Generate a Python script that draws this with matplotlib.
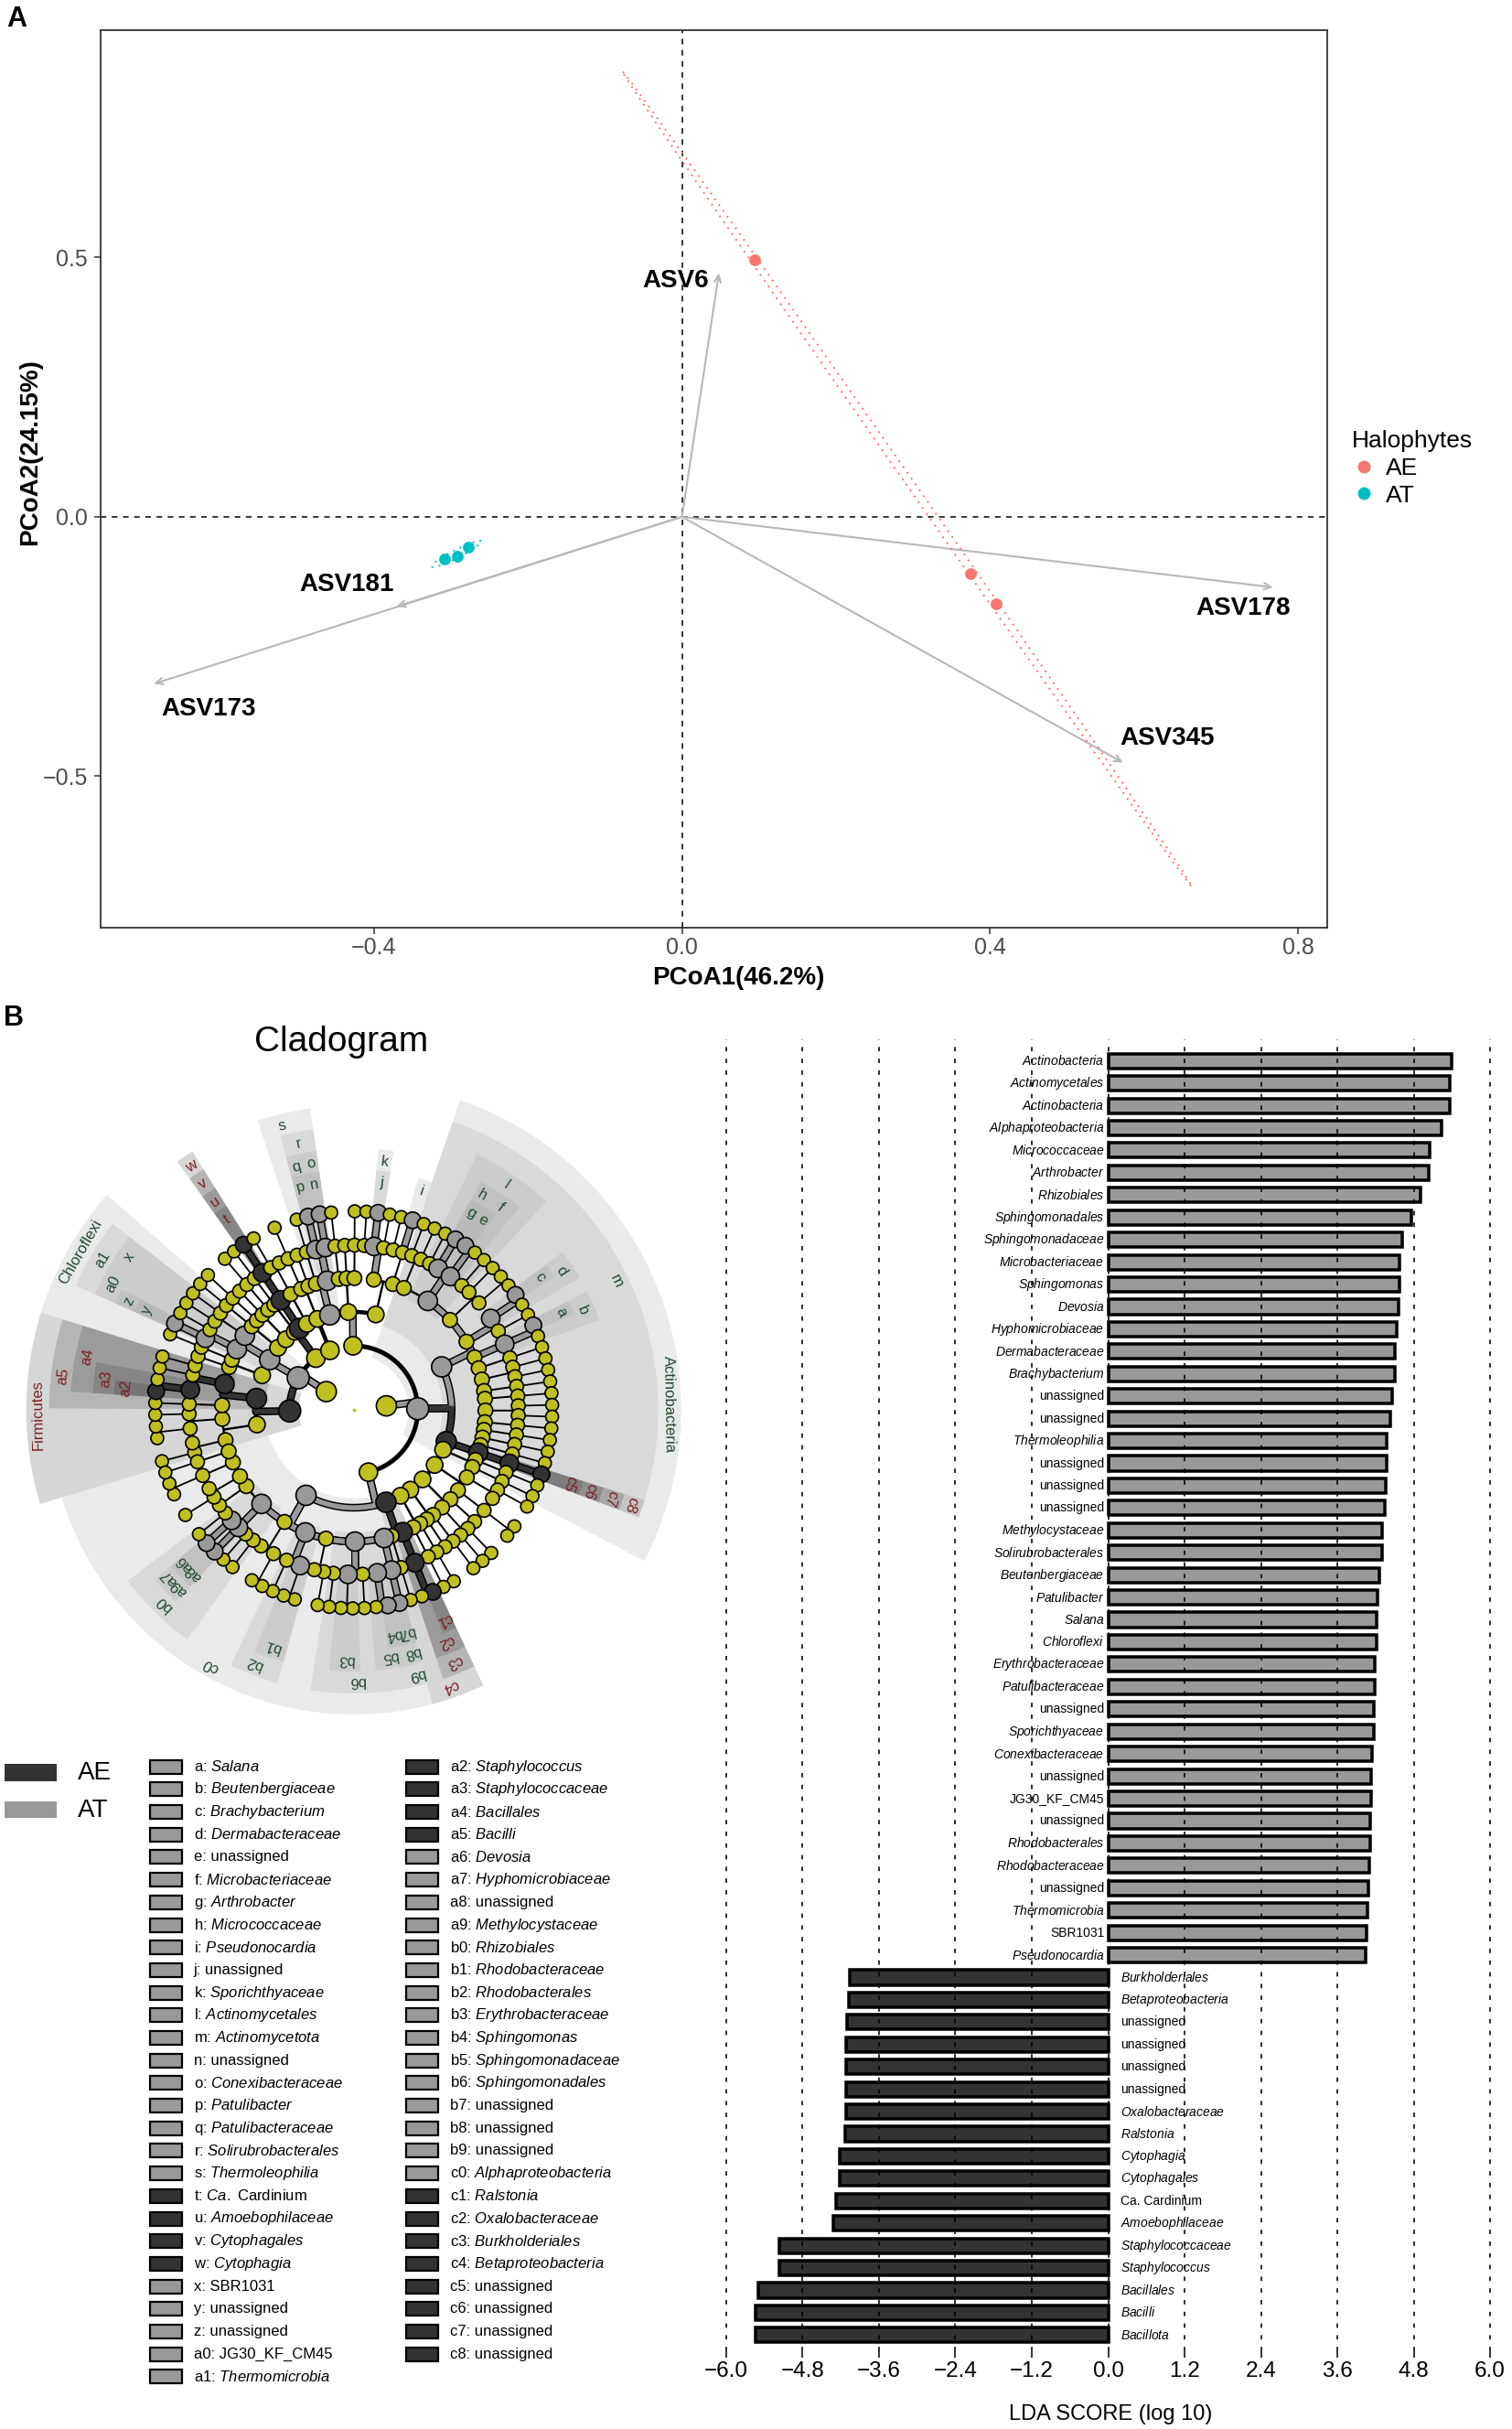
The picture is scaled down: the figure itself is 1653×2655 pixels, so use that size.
import numpy as np
import matplotlib.pyplot as plt
from matplotlib.patches import Wedge, Rectangle
from matplotlib.lines import Line2D
from matplotlib.ticker import FuncFormatter

plt.rcParams.update({
    "font.family": ["Liberation Sans", "DejaVu Sans"],
    "mathtext.fontset": "custom",
    "mathtext.rm": "Liberation Sans",
    "mathtext.it": "Liberation Sans:italic",
    "mathtext.bf": "Liberation Sans:bold",
})

FIG_W, FIG_H, DPI = 1653, 2655, 100
PX = 72 / DPI  # points per pixel

AE_COL, AT_COL = "#F8766D", "#00BFC4"
DARK, LIGHT = "#333333", "#999999"
OLIVE = "#BFBF1F"
AE_TXT, AT_TXT = "#7A1F1F", "#1F4A2C"

# ---------------- Panel A : PCoA biplot ----------------
pc1_var, pc2_var = 46.2, 24.15
ae_pc1 = [0.094, 0.375, 0.408]
ae_pc2 = [0.495, -0.109, -0.167]
at_pc1 = [-0.308, -0.292, -0.278]
at_pc2 = [-0.0805, -0.0755, -0.058]

asv_names = ["ASV6", "ASV181", "ASV173", "ASV178", "ASV345"]
asv_pc1 = [0.048, -0.371, -0.686, 0.768, 0.573]
asv_pc2 = [0.470, -0.173, -0.322, -0.136, -0.474]
asv_lab_x = [-0.008, -0.436, -0.615, 0.729, 0.630]
asv_lab_y = [0.455, -0.130, -0.371, -0.177, -0.427]

# ---------------- Panel B : LDA scores ----------------
lda_taxa = [
    "Actinobacteria", "Actinomycetales", "Actinobacteria", "Alphaproteobacteria",
    "Micrococcaceae", "Arthrobacter", "Rhizobiales", "Sphingomonadales",
    "Sphingomonadaceae", "Microbacteriaceae", "Sphingomonas", "Devosia",
    "Hyphomicrobiaceae", "Dermabacteraceae", "Brachybacterium", "unassigned",
    "unassigned", "Thermoleophilia", "unassigned", "unassigned", "unassigned",
    "Methylocystaceae", "Solirubrobacterales", "Beutenbergiaceae", "Patulibacter",
    "Salana", "Chloroflexi", "Erythrobacteraceae", "Patulibacteraceae", "unassigned",
    "Sporichthyaceae", "Conexibacteraceae", "unassigned", "JG30_KF_CM45",
    "unassigned", "Rhodobacterales", "Rhodobacteraceae", "unassigned",
    "Thermomicrobia", "SBR1031", "Pseudonocardia",
    "Burkholderiales", "Betaproteobacteria", "unassigned", "unassigned",
    "unassigned", "unassigned", "Oxalobacteraceae", "Ralstonia", "Cytophagia",
    "Cytophagales", "Ca. Cardinium", "Amoebophilaceae", "Staphylococcaceae",
    "Staphylococcus", "Bacillales", "Bacilli", "Bacillota",
]
lda_scores = [
    5.39, 5.37, 5.37, 5.24, 5.05, 5.03, 4.91, 4.76, 4.62, 4.57, 4.57, 4.56,
    4.54, 4.51, 4.51, 4.46, 4.43, 4.37, 4.37, 4.36, 4.35, 4.31, 4.30, 4.26,
    4.23, 4.22, 4.22, 4.19, 4.19, 4.18, 4.17, 4.14, 4.13, 4.13, 4.11, 4.11,
    4.10, 4.09, 4.08, 4.06, 4.04,
    -4.06, -4.07, -4.10, -4.11, -4.11, -4.12, -4.12, -4.13, -4.21, -4.21,
    -4.28, -4.32, -5.16, -5.17, -5.50, -5.54, -5.54,
]
lda_ticks = [-6.0, -4.8, -3.6, -2.4, -1.2, 0.0, 1.2, 2.4, 3.6, 4.8, 6.0]

# cladogram legend (letter keys)
key_codes = ["a", "b", "c", "d", "e", "f", "g", "h", "i", "j", "k", "l", "m", "n",
             "o", "p", "q", "r", "s", "t", "u", "v", "w", "x", "y", "z", "a0", "a1",
             "a2", "a3", "a4", "a5", "a6", "a7", "a8", "a9", "b0", "b1", "b2", "b3",
             "b4", "b5", "b6", "b7", "b8", "b9", "c0", "c1", "c2", "c3", "c4", "c5",
             "c6", "c7", "c8"]
key_names = ["Salana", "Beutenbergiaceae", "Brachybacterium", "Dermabacteraceae",
             "unassigned", "Microbacteriaceae", "Arthrobacter", "Micrococcaceae",
             "Pseudonocardia", "unassigned", "Sporichthyaceae", "Actinomycetales",
             "Actinomycetota", "unassigned", "Conexibacteraceae", "Patulibacter",
             "Patulibacteraceae", "Solirubrobacterales", "Thermoleophilia",
             "Ca. Cardinium", "Amoebophilaceae", "Cytophagales", "Cytophagia",
             "SBR1031", "unassigned", "unassigned", "JG30_KF_CM45", "Thermomicrobia",
             "Staphylococcus", "Staphylococcaceae", "Bacillales", "Bacilli", "Devosia",
             "Hyphomicrobiaceae", "unassigned", "Methylocystaceae", "Rhizobiales",
             "Rhodobacteraceae", "Rhodobacterales", "Erythrobacteraceae", "Sphingomonas",
             "Sphingomonadaceae", "Sphingomonadales", "unassigned", "unassigned",
             "unassigned", "Alphaproteobacteria", "Ralstonia", "Oxalobacteraceae",
             "Burkholderiales", "Betaproteobacteria", "unassigned", "unassigned",
             "unassigned", "unassigned"]

# cladogram tree, clockwise from the left side.
# 0 -> terminal clade, n -> clade with n terminal children,
# [...] -> clade with these children, (tag, spec) -> clade enriched in a group
firmicutes = ("AE:Firmicutes", [
    [[1, 0], [2, 1]],
    ("AE:a5", [[1], ("AE:a4", [("AE:a3", [("AE:a2", 0), 0]), 1, 1])]),
])
chloroflexi = ("AT:Chloroflexi", [
    [[0], [1]],
    ("AT:a1", [("AT:a0", [("AT:z", [("AT:y", 0)]), 1]), ("AT:x", [1, 1])]),
    [[1]],
])
bacteroidetes = ("", [
    [[1], [0], [1]],
    [[1]],
    ("AE:w", [("AE:v", [("AE:u", [("AE:t", 0)])])]),
    [[1, 0]],
])
other_phylum = ("", [[[1], [0]]])
thermo_phylum = ("", [
    ("AT:s", [[1], ("AT:r", [("AT:q", [("AT:p", 0)]), ("AT:o", [("AT:n", 0)])])]),
    [[1], [0], [1]],
    [[1, ("AT:k", [("AT:j", 0)]), 1, 1], [[("AT:i", 0)]]],
])
actino = ("AT:Actinobacteria", [
    ("AT:m", [
        [1, 1],
        ("AT:l", [1, ("AT:h", [("AT:g", 0)]), ("AT:f", [("AT:e", 0), 0]), 1]),
        [1, 2],
        [("AT:d", [("AT:c", 0), 0]), 1],
        [("AT:b", [("AT:a", 0), 0])],
        [1], [1, 1], [1], [1], [1, 1], [1], [1], [1], [1],
    ]),
    ("AE:c8", [("AE:c7", [("AE:c6", [("AE:c5", 0)])])]),
    [[1], [1]],
])
proteo = ("", [
    [[1, 0], [2]], [[0], [1, 1]], [[1], [0]], [[1], [1]],
    ("AE:c4", [("AE:c3", [("AE:c2", [("AE:c1", 0), 0])]), [1]]),
    ("AT:c0", [
        ("AT:b9", [("AT:b8", [("AT:b7", 0)])]),
        ("AT:b6", [("AT:b5", [("AT:b4", 0), 0]), 1, ("AT:b3", 2), 1]),
        [1, 0],
        ("AT:b2", [("AT:b1", 2), 1]),
        [2, 0],
        ("AT:b0", [1, 1, ("AT:a9", [("AT:a8", 0)]), ("AT:a7", [("AT:a6", 0)]), 1]),
        [0], [1, 0], [2], [1],
    ]),
])
tree = ("", [("", [firmicutes, chloroflexi, bacteroidetes, other_phylum]),
             ("", [thermo_phylum, actino, proteo])])


def minus_fmt(v, _):
    s = f"{v:.1f}"
    if s == "-0.0":
        s = "0.0"
    return s.replace("-", "\u2212")


def taxon_text(name, ca_italic=True):
    if name in ("unassigned", "SBR1031", "JG30_KF_CM45"):
        return name
    if name.startswith("Ca. "):
        return (r"$\it{Ca.}$ " + name[4:]) if ca_italic else name
    return r"$\it{" + name + "}$"


def ellipse(xs, ys, level=0.9, n=240):
    pts = np.column_stack([xs, ys])
    mu = pts.mean(axis=0)
    vals, vecs = np.linalg.eigh(np.cov(pts.T))
    vals = np.clip(vals, 1e-10, None)
    scale = np.sqrt(-2 * np.log(1 - level))
    t = np.linspace(0, 2 * np.pi, n)
    circ = np.column_stack([np.cos(t), np.sin(t)])
    e = mu + scale * circ @ (vecs * np.sqrt(vals)).T
    return e[:, 0], e[:, 1]


fig = plt.figure(figsize=(FIG_W / DPI, FIG_H / DPI), dpi=DPI)


def px_axes(left, top, width, height):
    return fig.add_axes([left / FIG_W, 1 - (top + height) / FIG_H,
                         width / FIG_W, height / FIG_H])


# ================= Panel A =================
axA = px_axes(110, 33, 1341, 981)
axA.set_xlim(-0.755, 0.838)
axA.set_ylim(-0.792, 0.938)
axA.axhline(0, color="black", lw=1.1, ls=(0, (4, 4)), zorder=1)
axA.axvline(0, color="black", lw=1.1, ls=(0, (4, 4)), zorder=1)

for x, y in zip(asv_pc1, asv_pc2):
    axA.annotate("", xy=(x, y), xytext=(0, 0),
                 arrowprops=dict(arrowstyle="->,head_length=0.55,head_width=0.25",
                                 color="#B8B8B8", lw=1.5, shrinkA=0, shrinkB=0),
                 zorder=2)
for name, x, y in zip(asv_names, asv_lab_x, asv_lab_y):
    axA.text(x, y, name, fontsize=20, fontweight="bold", ha="center", va="center")

ex, ey = ellipse(ae_pc1, ae_pc2)
axA.plot(ex, ey, color=AE_COL, lw=1.4, ls=(0, (1, 3)), zorder=3)
ex, ey = ellipse(at_pc1, at_pc2)
axA.plot(ex, ey, color=AT_COL, lw=1.4, ls=(0, (1, 3)), zorder=3)
axA.scatter(ae_pc1, ae_pc2, s=85, color=AE_COL, zorder=4, linewidths=0)
axA.scatter(at_pc1, at_pc2, s=85, color=AT_COL, zorder=4, linewidths=0)

axA.set_xticks([-0.4, 0.0, 0.4, 0.8])
axA.set_yticks([-0.5, 0.0, 0.5])
axA.xaxis.set_major_formatter(FuncFormatter(minus_fmt))
axA.yaxis.set_major_formatter(FuncFormatter(minus_fmt))
axA.tick_params(labelsize=18, labelcolor="#4D4D4D", color="#333333",
                length=5, width=1.1)
axA.tick_params(axis="x", pad=2.5)
axA.tick_params(axis="y", pad=5)
for sp in axA.spines.values():
    sp.set_color("#333333")
    sp.set_linewidth(1.3)
axA.text(0.52, -0.056, f"PCoA1({pc1_var}%)", transform=axA.transAxes,
         fontsize=20, fontweight="bold", ha="center", va="center")
axA.text(-0.0576, 0.5295, f"PCoA2({pc2_var}%)", transform=axA.transAxes,
         fontsize=20, fontweight="bold", ha="center", va="center", rotation=90)

handles = [Line2D([], [], ls="", marker="o", color=AE_COL, markersize=9, label="AE"),
           Line2D([], [], ls="", marker="o", color=AT_COL, markersize=9, label="AT")]
axA.legend(handles=handles, title="Halophytes", loc="upper left",
           bbox_to_anchor=(1478 / FIG_W, 1 - 470 / FIG_H),
           bbox_transform=fig.transFigure, frameon=False, fontsize=19,
           title_fontsize=19, alignment="left", handlelength=1.0,
           handletextpad=0.4, labelspacing=0.22, borderaxespad=0, borderpad=0)

fig.text(18 / FIG_W, 1 - 21 / FIG_H, "A", fontsize=22, fontweight="bold",
         ha="center", va="center")
fig.text(15 / FIG_W, 1 - 1113 / FIG_H, "B", fontsize=22, fontweight="bold",
         ha="center", va="center")

# ================= Panel B : LDA bars =================
axL = px_axes(780, 1136, 863, 1434)
ypos = np.arange(len(lda_scores))
bar_cols = [LIGHT if v > 0 else DARK for v in lda_scores]
axL.barh(ypos, lda_scores, height=0.66, color=bar_cols, edgecolor="black",
         linewidth=3.5 * PX, zorder=2)
for t in lda_ticks:
    axL.axvline(t, color="black", lw=1.6 * PX, ls=(0, (3, 5)), zorder=3)
for i, (name, v) in enumerate(zip(lda_taxa, lda_scores)):
    if v > 0:
        axL.text(-0.06, i, taxon_text(name, False), ha="right", va="center",
                 fontsize=10, zorder=4)
    else:
        axL.text(0.2, i, taxon_text(name, False), ha="left", va="center",
                 fontsize=10, zorder=4)
axL.set_xlim(-6.2, 6.2)
axL.set_ylim(len(lda_scores) - 1 + 0.72, -0.97)
axL.set_yticks([])
axL.set_xticks(lda_ticks)
axL.xaxis.set_major_formatter(FuncFormatter(minus_fmt))
axL.tick_params(axis="x", labelsize=17.5, length=5, width=1.1, pad=3)
for sp in axL.spines.values():
    sp.set_visible(False)
fig.text(1214 / FIG_W, 1 - 2639 / FIG_H, "LDA SCORE (log 10)", fontsize=17,
         ha="center", va="center")

# ================= Panel B : cladogram =================
CX, CY = 386.7, 1541.0
axC = px_axes(0, 1150, 780, 790)
axC.set_xlim(-CX, 780 - CX)
axC.set_ylim(CY - 1940, CY - 1150)
axC.axis("off")
fig.text(373 / FIG_W, 1 - 1139 / FIG_H, "Cladogram", fontsize=28,
         ha="center", va="center")

R = [0, 36, 70, 107, 144, 180, 217]
LABEL_R = {2: 345, 3: 320, 4: 297, 5: 273, 6: 250}
EDGE_W = {2: 5.0, 3: 4.5, 4: 2.4, 5: 2.0, 6: 1.8}
NODE_R = {0: 2, 1: 11, 2: 10, 3: 9, 4: 8, 5: 7.5, 6: 7}
HI_R = {2: 12, 3: 11, 4: 10.5, 5: 10, 6: 9}
START_ANGLE = 195.0

nodes, leaves = [], []


def build(spec, depth):
    tag = ""
    if isinstance(spec, tuple):
        tag, spec = spec
    if isinstance(spec, int):
        spec = [0] * spec
    status, name = tag.split(":") if tag else ("", "")
    node = {"depth": depth, "status": status, "name": name, "kids": []}
    if not spec:
        node["slot"] = len(leaves)
        leaves.append(node)
        node["lo"] = node["hi"] = node["slot"]
    else:
        for s in spec:
            node["kids"].append(build(s, depth + 1))
        node["lo"] = node["kids"][0]["lo"]
        node["hi"] = node["kids"][-1]["hi"]
    nodes.append(node)
    return node


build(tree, 0)
step = 360.0 / len(leaves)
for n in nodes:  # post-order: children before parents
    if n["kids"]:
        n["ang"] = (n["kids"][0]["ang"] + n["kids"][-1]["ang"]) / 2
    else:
        n["ang"] = START_ANGLE - n["slot"] * step

key_status = {n["name"]: n["status"] for n in nodes if n["status"]}


def polar(r, ang):
    a = np.radians(ang)
    return r * np.cos(a), r * np.sin(a)


def arc_xy(r, a1, a2):
    t = np.radians(np.linspace(a1, a2, int(abs(a2 - a1) * 2) + 2))
    return r * np.cos(t), r * np.sin(t)


# shaded sectors + labels
for n in sorted([n for n in nodes if n["status"]], key=lambda n: n["depth"]):
    d = n["depth"]
    a_hi = START_ANGLE - n["lo"] * step + step / 2
    a_lo = START_ANGLE - n["hi"] * step - step / 2
    r_out = LABEL_R[d] + 13
    r_in = R[d] - 10
    col = DARK if n["status"] == "AE" else LIGHT
    axC.add_patch(Wedge((0, 0), r_out, a_lo, a_hi, width=r_out - r_in,
                        facecolor=col, alpha=0.2, lw=0, zorder=1))
    tx, ty = polar(LABEL_R[d], n["ang"])
    axC.text(tx, ty, n["name"], rotation=n["ang"] - 90, rotation_mode="anchor",
             ha="center", va="center", fontsize=12, zorder=6,
             color=AE_TXT if n["status"] == "AE" else AT_TXT)

# branches
for n in nodes:
    if n["depth"] == 0 or not n["kids"]:
        continue
    d = n["depth"]
    rp, rc = R[d], R[d + 1]
    lw = EDGE_W[d + 1] * PX
    x0, y0 = polar(rp, n["ang"])
    x1, y1 = polar(rc, n["ang"])
    angs = [k["ang"] for k in n["kids"]] + [n["ang"]]
    axC.plot([x0, x1], [y0, y1], color="black", lw=lw, solid_capstyle="butt", zorder=2)
    ax_, ay_ = arc_xy(rc, min(angs), max(angs))
    axC.plot(ax_, ay_, color="black", lw=lw, solid_capstyle="round", zorder=2)
    for k in n["kids"]:
        if not k["status"]:
            continue
        bx, by = arc_xy(rc, n["ang"], k["ang"])
        xs = np.concatenate([[x0], bx])
        ys = np.concatenate([[y0], by])
        axC.plot(xs, ys, color="black", lw=8.5 * PX, solid_capstyle="butt", zorder=3)
        axC.plot(xs, ys, color=DARK if k["status"] == "AE" else LIGHT,
                 lw=5.5 * PX, solid_capstyle="butt", zorder=3.1)

# nodes
nx, ny, ns, nc = [], [], [], []
for n in nodes:
    if n["depth"] == 0:
        continue
    x, y = polar(R[n["depth"]], n["ang"])
    r = HI_R[n["depth"]] if n["status"] else NODE_R[n["depth"]]
    nx.append(x)
    ny.append(y)
    ns.append((2 * r * PX) ** 2)
    nc.append({"AE": DARK, "AT": LIGHT}.get(n["status"], OLIVE))
axC.scatter(nx, ny, s=ns, c=nc, edgecolors="black", linewidths=1.7 * PX, zorder=4)
axC.scatter([0], [0], s=(2 * NODE_R[0] * PX) ** 2, c=OLIVE, linewidths=0, zorder=4)

# ================= cladogram legend =================
axG = px_axes(0, 1900, 780, 755)
axG.set_xlim(0, 780)
axG.set_ylim(755, 0)
axG.axis("off")
axG.add_patch(Rectangle((5, 28), 57, 19, facecolor=DARK, lw=0))
axG.add_patch(Rectangle((5, 69), 57, 18, facecolor=LIGHT, lw=0))
axG.text(85, 38, "AE", fontsize=20, va="center", ha="left")
axG.text(85, 79, "AT", fontsize=20, va="center", ha="left")

ROW0, ROW_H = 31.2, 24.69
for i, (code, name) in enumerate(zip(key_codes, key_names)):
    col, row = (0, i) if i < 28 else (1, i - 28)
    sx = 164 if col == 0 else 444
    y = ROW0 + row * ROW_H
    fc = DARK if key_status.get(code) == "AE" else LIGHT
    axG.add_patch(Rectangle((sx, y - 7.5), 35, 15, facecolor=fc,
                            edgecolor="black", lw=2.2 * PX))
    axG.text(sx + 47.5, y, f"{code}: " + taxon_text(name), fontsize=12,
             va="center", ha="left")

fig.savefig("out.png", dpi=DPI)
